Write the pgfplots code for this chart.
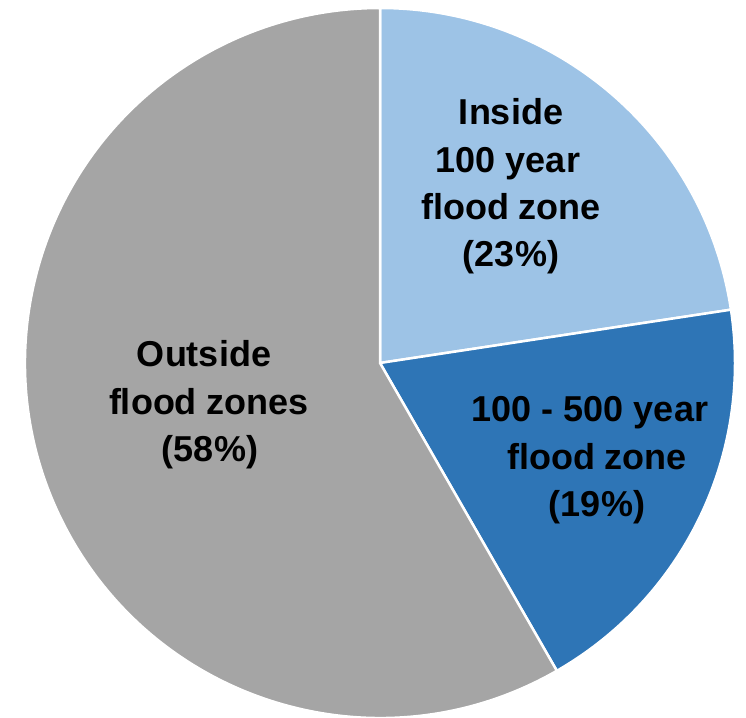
\documentclass[border=0pt]{standalone}
\usepackage{pgfplots}
\usepackage{pgfplotstable}
\pgfplotsset{compat=1.18}
\usepackage{fontspec}
\setmainfont{Liberation Sans}
\definecolor{lightblu}{HTML}{9DC3E6}
\definecolor{darkblu}{HTML}{2E75B6}
\definecolor{greyslice}{HTML}{A5A5A5}
\pgfplotstableread{
slice share
inside 22.6
between 19.1
outside 58.3
}\pietable
\begin{document}
\begin{tikzpicture}
\pgfplotstablegetelem{0}{share}\of\pietable \let\sA\pgfplotsretval
\pgfplotstablegetelem{1}{share}\of\pietable \let\sB\pgfplotsretval
\pgfplotstablegetelem{2}{share}\of\pietable \let\sC\pgfplotsretval
\pgfmathsetmacro{\aZero}{90}
\pgfmathsetmacro{\aOne}{\aZero-3.6*\sA}
\pgfmathsetmacro{\aTwo}{\aOne-3.6*\sB}
\pgfmathsetmacro{\aThree}{\aTwo-3.6*\sC}
\begin{axis}[x=1pt, y=1pt, xmin=0, xmax=746, ymin=0, ymax=717,
  hide axis, clip=false]
\coordinate (bbSW) at (axis cs:0,0);
\coordinate (bbNE) at (axis cs:746,717);
\filldraw[fill=lightblu, draw=white, line width=2.5pt, line join=round]
  (axis cs:380,354) -- ++(\aZero:355pt) arc[start angle=\aZero, end angle=\aOne, radius=355pt] -- cycle;
\filldraw[fill=darkblu, draw=white, line width=2.5pt, line join=round]
  (axis cs:380,354) -- ++(\aOne:355pt) arc[start angle=\aOne, end angle=\aTwo, radius=355pt] -- cycle;
\filldraw[fill=greyslice, draw=white, line width=2.5pt, line join=round]
  (axis cs:380,354) -- ++(\aTwo:355pt) arc[start angle=\aTwo, end angle=\aThree, radius=355pt] -- cycle;
\begin{scope}[every node/.style={anchor=base, inner sep=0pt, font=\fontsize{36}{43}\selectfont\bfseries}]
\node at (axis cs:511,592) {Inside};
\node at (axis cs:508,544) {100 year};
\node at (axis cs:511,497) {flood zone};
\node at (axis cs:511,450) {(23\%)};
\node at (axis cs:590,295) {100 - 500 year};
\node at (axis cs:597,247) {flood zone};
\node at (axis cs:597,200) {(19\%)};
\node at (axis cs:204,350) {Outside};
\node at (axis cs:209,302) {flood zones};
\node at (axis cs:210,255) {(58\%)};
\end{scope}
\end{axis}
\pgfresetboundingbox
\useasboundingbox (bbSW) rectangle (bbNE);
\end{tikzpicture}
\end{document}
